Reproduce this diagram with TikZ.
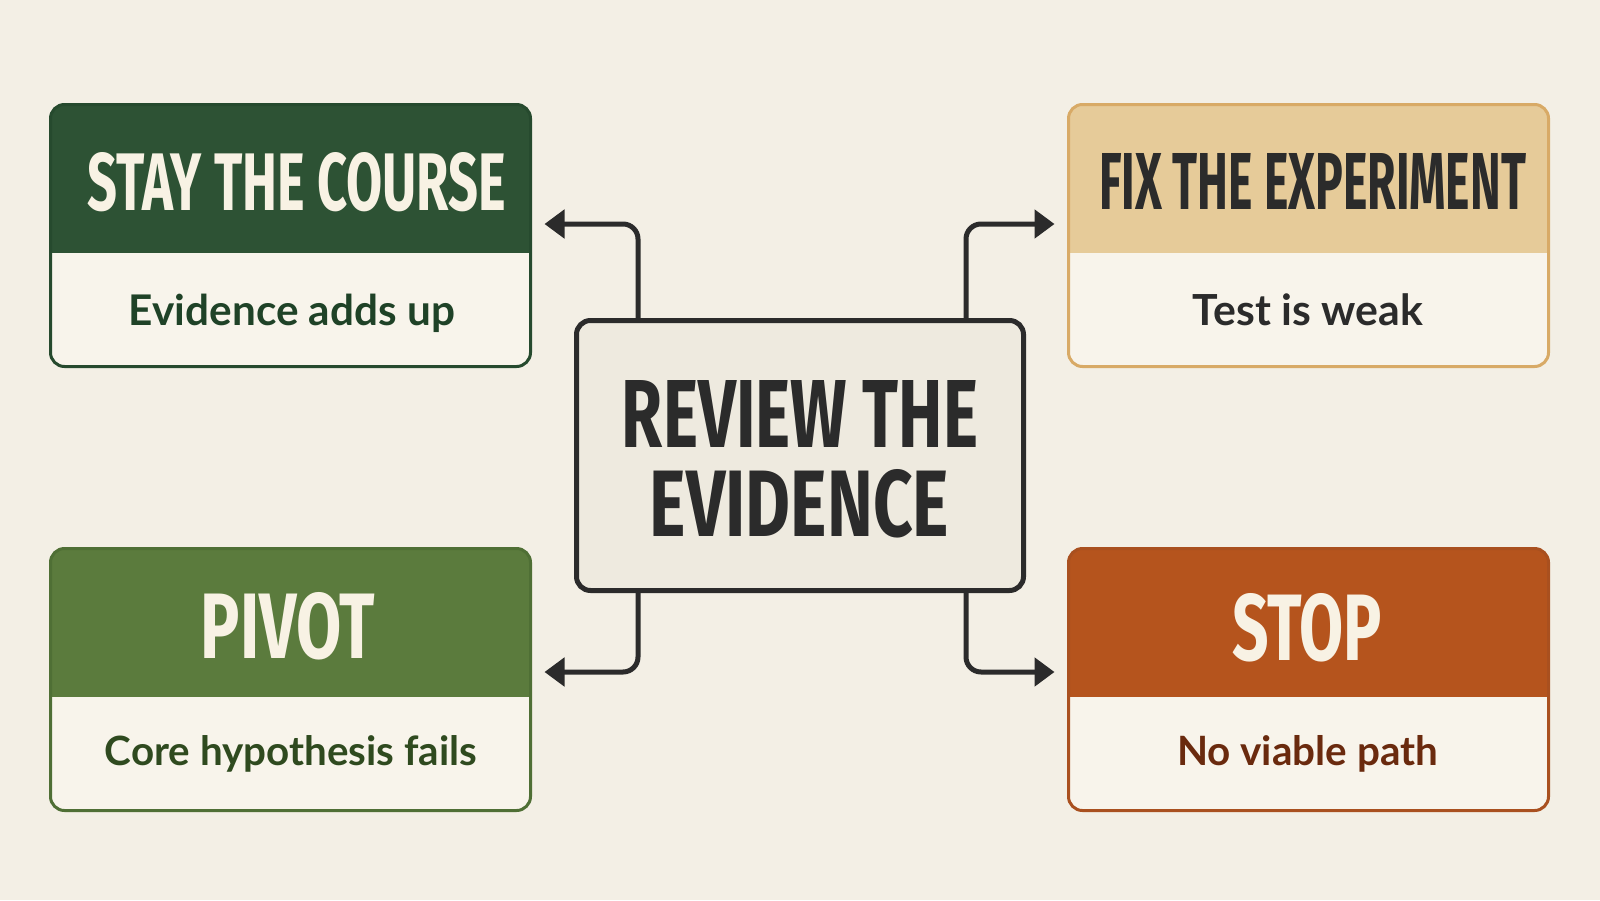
\documentclass[tikz,border=0pt]{standalone}
\usepackage{fontspec}
\usepackage{graphicx}
\usetikzlibrary{arrows.meta}
\newfontfamily\headfont{Fira Sans}
\newfontfamily\subfont{Lato}
\definecolor{paper}{HTML}{F3EFE5}
\definecolor{cardbody}{HTML}{F8F4EB}
\definecolor{hubfill}{HTML}{EEEADF}
\definecolor{ink}{HTML}{2B2B2B}
\definecolor{forest}{HTML}{2D5234}
\definecolor{forestline}{HTML}{264A2E}
\definecolor{foresttext}{HTML}{1F4227}
\definecolor{olive}{HTML}{5B7B3D}
\definecolor{oliveline}{HTML}{4F6F35}
\definecolor{olivetext}{HTML}{2F4A1F}
\definecolor{sand}{HTML}{E6CB99}
\definecolor{sandline}{HTML}{D8AA66}
\definecolor{rust}{HTML}{B5541D}
\definecolor{rustline}{HTML}{A9501F}
\definecolor{rusttext}{HTML}{6A2A0E}
\definecolor{cream}{HTML}{F8F2E4}
\newcommand{\headline}[3]{\resizebox{#1}{#2}{\headfont\bfseries #3}}
\newcommand{\subline}[2]{\resizebox{#1}{!}{\subfont\bfseries #2}}

\begin{document}
\begin{tikzpicture}[x=1pt, y={(0,-1pt)},
    card/.style 2 args={draw=#1, line width=3pt, rounded corners=14pt, fill=cardbody,
      minimum width=480pt, minimum height=262pt, inner sep=0pt,
      path picture={\fill[#2, sharp corners] (path picture bounding box.north west) rectangle
        ([yshift=-148pt]path picture bounding box.north east);}},
    hub/.style={draw=ink, line width=5pt, rounded corners=14pt, fill=hubfill,
      minimum width=447pt, minimum height=270pt, inner sep=0pt},
    txt/.style={inner sep=0pt, anchor=base},
    link/.style={draw=ink, line width=5pt, rounded corners=15pt,
      -{Triangle[length=20pt,width=28pt]}}]
    \useasboundingbox[fill=paper] (0,0) rectangle (1600,900);

    % the four outcomes
    \node[card={forestline}{forest}] (stay) at (290.5,235.5) {};
    \node[card={sandline}{sand}] (fix) at (1308.5,235.5) {};
    \node[card={oliveline}{olive}] (pivot) at (290.5,679.5) {};
    \node[card={rustline}{rust}] (stop) at (1308.5,679.5) {};

    % headings
    \node[txt, text=cream] (stayhead) at (297,210) {\headline{418pt}{58pt}{STAY THE COURSE}};
    \node[txt, text=ink] (fixhead) at (1312.5,209) {\headline{427pt}{56pt}{FIX THE EXPERIMENT}};
    \node[txt, text=cream] (pivothead) at (288,658) {\headline{174pt}{66pt}{PIVOT}};
    \node[txt, text=cream] (stophead) at (1307,660) {\headline{150pt}{67pt}{STOP}};

    % reasons
    \node[txt, text=foresttext] (staynote) at (292,325) {\subline{326pt}{Evidence adds up}};
    \node[txt, text=ink] (fixnote) at (1308,325) {\subline{230pt}{Test is weak}};
    \node[txt, text=olivetext] (pivotnote) at (291,765) {\subline{372pt}{Core hypothesis fails}};
    \node[txt, text=rusttext] (stopnote) at (1307.5,765) {\subline{261pt}{No viable path}};

    % the decision in the middle
    \node[hub] (review) at (800,455.5) {};
    \node[txt, text=ink] (hubtop) at (800,447) {\headline{356pt}{67pt}{REVIEW THE}};
    \node[txt, text=ink] (hubbottom) at (799.5,536) {\headline{299pt}{67pt}{EVIDENCE}};

    \draw[link] ([xshift=-162pt]review.north) |- ([shift={(12.5pt,11.5pt)}]stay.east);
    \draw[link] ([xshift=166pt]review.north) |- ([shift={(-12.5pt,11.5pt)}]fix.west);
    \draw[link] ([xshift=-162pt]review.south) |- ([shift={(12.5pt,7.5pt)}]pivot.east);
    \draw[link] ([xshift=166pt]review.south) |- ([shift={(-12.5pt,7.5pt)}]stop.west);
\end{tikzpicture}
\end{document}
